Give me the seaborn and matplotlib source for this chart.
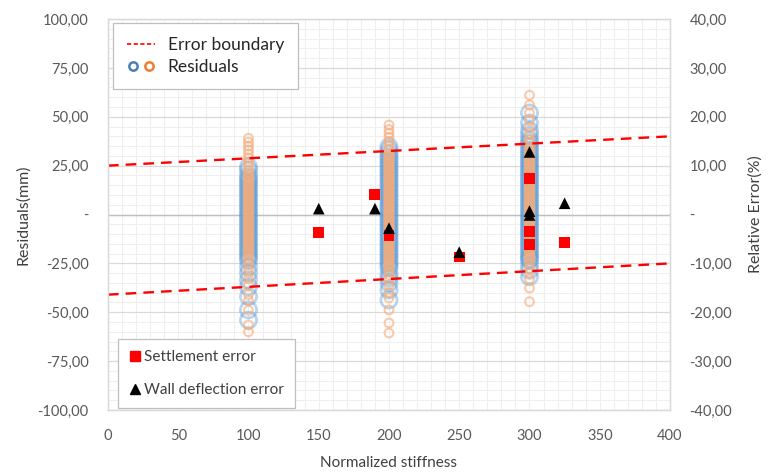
import matplotlib
matplotlib.use("Agg")
import matplotlib.pyplot as plt
from matplotlib.ticker import MultipleLocator, FuncFormatter
from matplotlib.lines import Line2D
from matplotlib.legend_handler import HandlerTuple
import pandas as pd
import seaborn as sns

# ---- data -------------------------------------------------------------
# residuals (mm) of the two model sets at each normalized stiffness
blue_100 = [24.4, 22.6, 20.0, 18.5, 17.0, 15.5, 14.0, 12.5, 11.0, 9.5, 8.0, 6.5,
            5.0, 3.5, 2.0, 0.5, -1.0, -2.5, -4.0, -5.5, -7.0, -8.5, -10.0, -11.5,
            -13.0, -14.5, -16.0, -17.5, -19.0, -20.5, -22.0, -23.5, -26.8, -30.0,
            -33.5, -37.0, -42.0, -48.8, -54.0]
orange_100 = [39.0, 37.0, 35.0, 33.0, 31.0, 29.0, 27.0, 25.0, 23.0, 21.0, 20.0,
              19.0, 18.0, 17.0, 16.0, 15.0, 14.0, 13.0, 12.0, 11.0, 10.0, 9.0,
              8.0, 7.0, 6.0, 5.0, 4.0, 3.0, 2.0, 1.0, 0.0, -1.0, -2.0, -3.0, -4.0,
              -5.0, -6.0, -7.0, -8.0, -9.0, -10.0, -11.0, -12.0, -13.0, -14.0,
              -15.0, -16.0, -17.0, -18.0, -19.0, -20.0, -21.0, -23.0, -25.0,
              -27.5, -30.0, -33.0, -36.0, -41.0, -44.0, -49.0, -56.5, -60.0]
blue_200 = [34.7, 33.0, 31.0, 29.5, 28.0, 26.5, 25.0, 23.5, 22.0, 20.5, 19.0,
            17.5, 16.0, 14.5, 13.0, 11.5, 10.0, 8.5, 7.0, 5.5, 4.0, 2.5, 1.0, -0.5,
            -2.0, -3.5, -5.0, -6.5, -8.0, -9.5, -11.0, -12.5, -14.0, -15.5, -17.0,
            -18.5, -20.0, -21.5, -23.0, -24.5, -26.0, -27.5, -30.5, -32.5, -35.0,
            -38.6, -43.7]
orange_200 = [45.8, 43.5, 41.5, 39.5, 37.5, 35.5, 33.5, 31.0, 30.0, 29.0, 28.0,
              27.0, 26.0, 25.0, 24.0, 23.0, 22.0, 21.0, 20.0, 19.0, 18.0, 17.0,
              16.0, 15.0, 14.0, 13.0, 12.0, 11.0, 10.0, 9.0, 8.0, 7.0, 6.0, 5.0,
              4.0, 3.0, 2.0, 1.0, 0.0, -1.0, -2.0, -3.0, -4.0, -5.0, -6.0, -7.0,
              -8.0, -9.0, -10.0, -11.0, -12.0, -13.0, -14.0, -15.0, -16.0, -17.0,
              -18.0, -19.0, -20.0, -21.0, -22.0, -23.0, -24.0, -25.0, -26.0,
              -27.0, -29.0, -31.0, -33.5, -36.0, -40.0, -42.7, -48.8, -55.5,
              -60.6]
blue_300 = [51.9, 46.8, 43.0, 40.6, 38.0, 36.5, 34.7, 33.0, 31.5, 30.0, 28.5,
            27.0, 25.5, 24.0, 22.5, 21.0, 19.5, 18.0, 16.5, 15.0, 13.5, 12.0, 10.5,
            9.0, 7.5, 6.0, 4.5, 3.0, 1.5, 0.0, -1.5, -3.0, -4.5, -6.0, -7.5, -9.0,
            -10.5, -12.0, -13.5, -15.0, -16.5, -18.0, -19.5, -21.0, -22.5, -23.3,
            -26.0, -28.5, -31.8]
orange_300 = [61.0, 56.0, 52.0, 48.0, 44.5, 41.5, 38.5, 36.5, 34.0, 33.0, 32.0,
              31.0, 30.0, 29.0, 28.0, 27.0, 26.0, 25.0, 24.0, 23.0, 22.0, 21.0,
              20.0, 19.0, 18.0, 17.0, 16.0, 15.0, 14.0, 13.0, 12.0, 11.0, 10.0,
              9.0, 8.0, 7.0, 6.0, 5.0, 4.0, 3.0, 2.0, 1.0, 0.0, -1.0, -2.0, -3.0,
              -4.0, -5.0, -6.0, -7.0, -8.0, -9.0, -10.0, -11.0, -12.0, -13.0,
              -14.0, -15.0, -16.0, -17.0, -18.0, -19.0, -20.0, -21.0, -22.0,
              -23.0, -25.0, -27.5, -30.0, -33.0, -37.6, -44.6]

# error boundary (mm) at both ends of the stiffness range
boundary_x = [0, 400]
boundary_upper = [25.0, 40.0]
boundary_lower = [-41.0, -25.0]

# relative errors (%)
settlement_x = [150, 190, 200, 250, 300, 300, 300, 325]
settlement_err = [-3.7, 4.0, -4.2, -8.7, 7.4, -3.5, -6.1, -5.8]
wall_x = [150, 190, 200, 250, 300, 300, 300, 325]
wall_err = [1.2, 1.2, -2.8, -7.7, 12.8, 0.7, -0.1, 2.3]

# ---- tables ----------------------------------------------------------
def column(values, x):
    return pd.DataFrame({"stiffness": [x] * len(values), "residual": values})

blue_df = pd.concat([column(blue_100, 100), column(blue_200, 200),
                     column(blue_300, 300)], ignore_index=True)
orange_df = pd.concat([column(orange_100, 100), column(orange_200, 200),
                       column(orange_300, 300)], ignore_index=True)
bound_df = pd.DataFrame({"stiffness": boundary_x, "upper": boundary_upper,
                         "lower": boundary_lower})
settle_df = pd.DataFrame({"stiffness": settlement_x, "err": settlement_err})
wall_df = pd.DataFrame({"stiffness": wall_x, "err": wall_err})

# ---- style -----------------------------------------------------------
sns.set_theme(style="white")
plt.rcParams["font.family"] = ["Lato", "DejaVu Sans"]
TICK_C = "#595959"
LABEL_C = "#404040"
BLUE = "#5b9bd5"
ORANGE = "#f3aa78"

fig = plt.figure(figsize=(7.68, 4.76), dpi=100)
ax = fig.add_axes([0.1406, 0.1387, 0.7318, 0.8213])
ax2 = ax.twinx()

# residual circles
sns.scatterplot(data=blue_df, x="stiffness", y="residual", ax=ax, marker="o",
                s=135, facecolor="none", edgecolor=BLUE, linewidth=2.0,
                alpha=0.42, zorder=3, legend=False)
sns.scatterplot(data=orange_df, x="stiffness", y="residual", ax=ax, marker="o",
                s=40, facecolor="none", edgecolor=ORANGE, linewidth=1.5,
                alpha=0.6, zorder=4, legend=False)

# error boundaries
for col in ["upper", "lower"]:
    sns.lineplot(data=bound_df, x="stiffness", y=col, ax=ax, color="#ff0000",
                 linewidth=1.7, dashes=False, zorder=5)
for ln in ax.get_lines():
    ln.set_dashes([4.5, 3])

# relative errors on the secondary axis
sns.scatterplot(data=settle_df, x="stiffness", y="err", ax=ax2, marker="s",
                s=62, color="#ff0000", edgecolor="none", zorder=6, legend=False)
sns.scatterplot(data=wall_df, x="stiffness", y="err", ax=ax2, marker="^",
                s=70, color="black", edgecolor="none", zorder=7, legend=False)

# ---- axes ------------------------------------------------------------
ax.set_xlim(0, 400)
ax.set_ylim(-100, 100)
ax2.set_ylim(-40, 40)

def comma_fmt(v, _pos):
    if abs(v) < 1e-9:
        return "-"
    return f"{v:.2f}".replace(".", ",")

ax.xaxis.set_major_locator(MultipleLocator(50))
ax.xaxis.set_minor_locator(MultipleLocator(10))
ax.yaxis.set_major_locator(MultipleLocator(25))
ax.yaxis.set_minor_locator(MultipleLocator(5))
ax.yaxis.set_major_formatter(FuncFormatter(comma_fmt))
ax2.yaxis.set_major_locator(MultipleLocator(10))
ax2.yaxis.set_major_formatter(FuncFormatter(comma_fmt))

ax.grid(which="minor", axis="both", color="#efefef", linewidth=0.8, zorder=0)
ax.grid(which="major", axis="x", color="#efefef", linewidth=0.8, zorder=0)
ax.grid(which="major", axis="y", color="#d9d9d9", linewidth=0.9, zorder=0)
ax.axhline(0, color="#bfbfbf", linewidth=1.0, zorder=1)
ax.set_axisbelow(True)

for a in (ax, ax2):
    for sp in a.spines.values():
        sp.set_color("#d9d9d9")
        sp.set_linewidth(0.9)
    a.tick_params(which="both", length=0, labelsize=10.5, labelcolor=TICK_C)
ax.tick_params(axis="y", pad=14)
ax.tick_params(axis="x", pad=14)
ax2.tick_params(axis="y", pad=14)

ax.set_xlabel("Normalized stiffness", fontsize=11, color=LABEL_C, labelpad=9)
ax.set_ylabel("Residuals(mm)", fontsize=11.5, color=LABEL_C, labelpad=5)
ax2.set_ylabel("Relative Error(%)", fontsize=11.5, color=LABEL_C, labelpad=12)

# ---- legends ---------------------------------------------------------
h_bound = Line2D([], [], color="#ff0000", linewidth=1.2, dashes=[2.5, 1.5])
h_blue = Line2D([], [], linestyle="none", marker="o", markersize=6,
                markerfacecolor="none", markeredgecolor="#4a7fb5",
                markeredgewidth=1.8)
h_orange = Line2D([], [], linestyle="none", marker="o", markersize=6,
                  markerfacecolor="none", markeredgecolor="#ed7d31",
                  markeredgewidth=1.8)
leg1 = ax2.legend([h_bound, (h_blue, h_orange)], ["Error boundary", "Residuals"],
                  handler_map={tuple: HandlerTuple(ndivide=None, pad=0.3)},
                  loc="upper left", bbox_to_anchor=(0.009, 0.99),
                  borderaxespad=0, fontsize=12.5, frameon=True, fancybox=False,
                  edgecolor="#bfbfbf", framealpha=1, handlelength=1.6,
                  borderpad=0.8, labelspacing=0.35, handletextpad=0.75)
leg1.get_frame().set_linewidth(0.9)
ax2.add_artist(leg1)

h_sq = Line2D([], [], linestyle="none", marker="s", markersize=7,
              color="#ff0000")
h_tri = Line2D([], [], linestyle="none", marker="^", markersize=7,
               color="black")
leg2 = ax2.legend([h_sq, h_tri], ["Settlement error", "Wall deflection error"],
                  loc="lower left", bbox_to_anchor=(0.018, 0.005),
                  borderaxespad=0, fontsize=11.1, frameon=True, fancybox=False,
                  edgecolor="#bfbfbf", framealpha=1, handlelength=0.8,
                  borderpad=0.7, labelspacing=1.25, handletextpad=0.2,
                  labelcolor=LABEL_C)
leg2.get_frame().set_linewidth(0.9)

fig.savefig("out.png", dpi=100)
